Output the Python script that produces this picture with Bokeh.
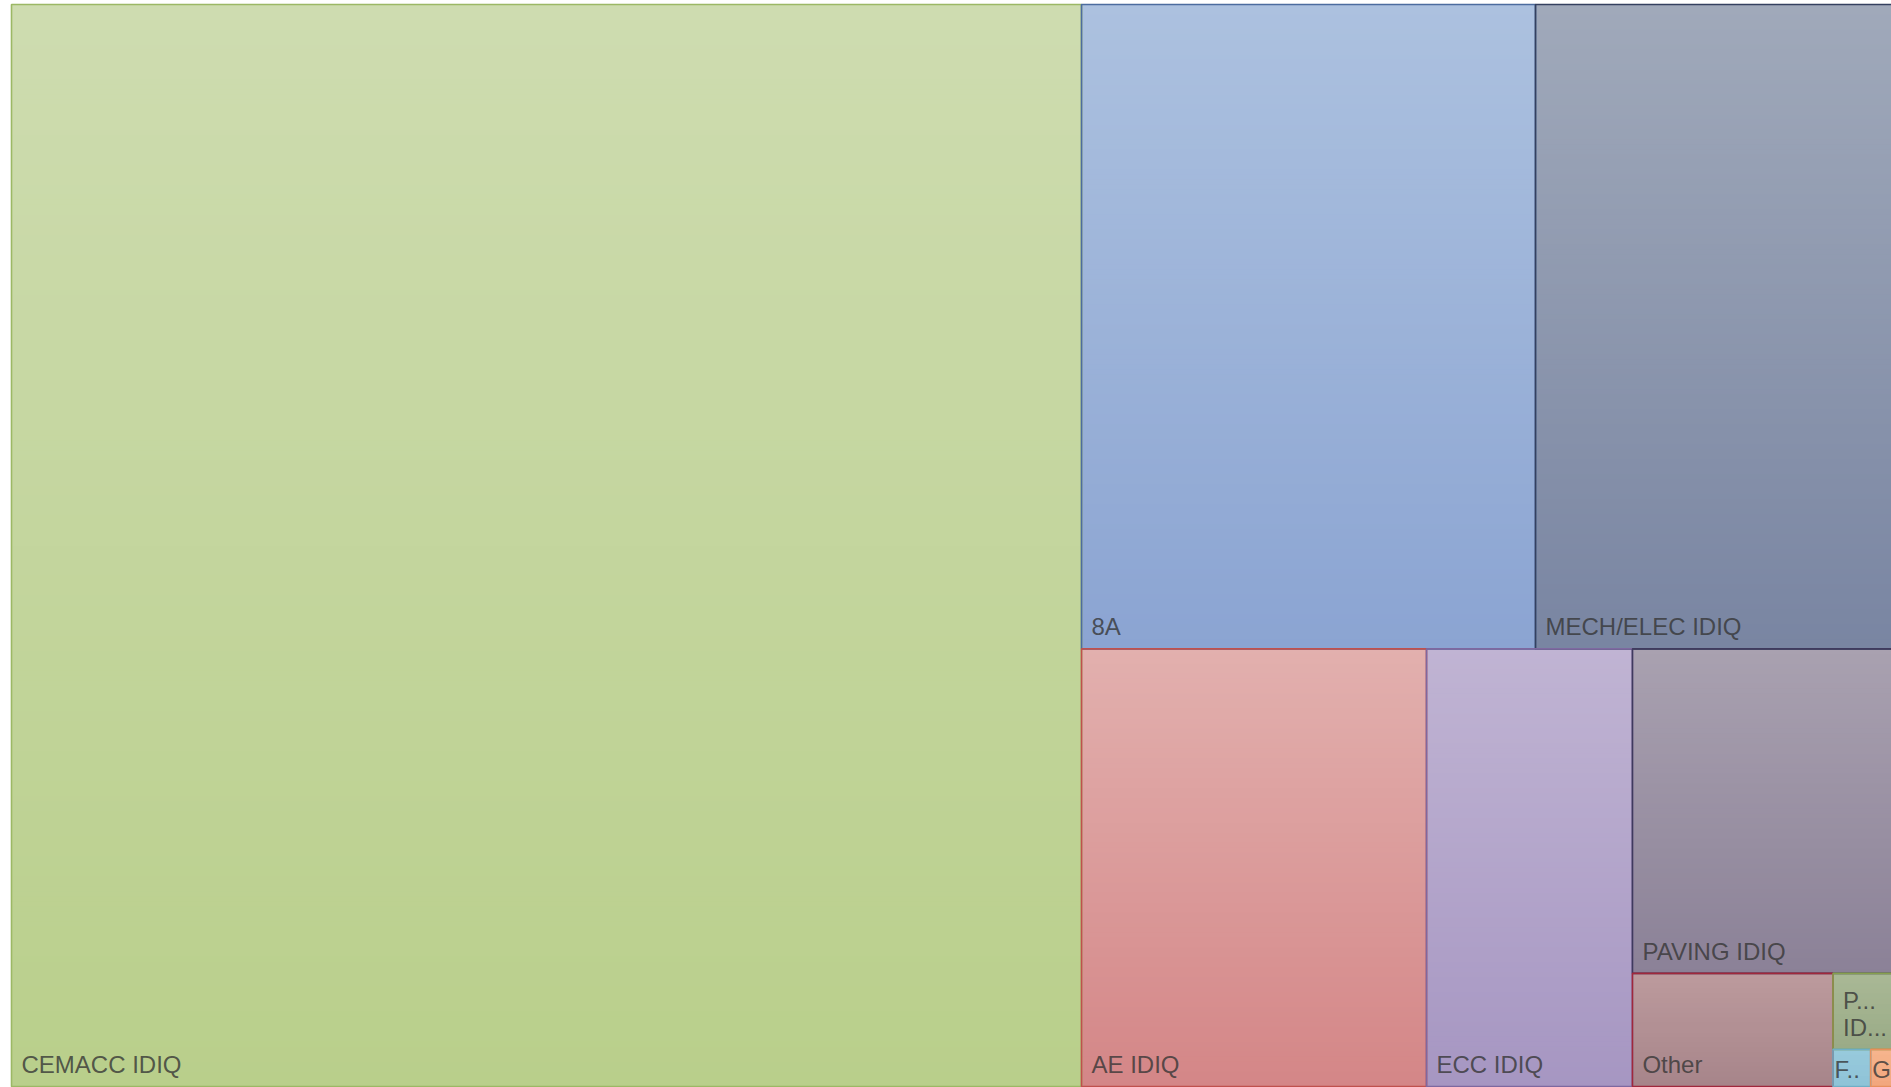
from bokeh.plotting import figure
from bokeh.models import Range1d, ColumnDataSource
from bokeh.core.properties import value
from bokeh.embed import file_html
from bokeh.resources import INLINE

# ---- data -------------------------------------------------------------
categories = ["CEMACC IDIQ", "8A", "MECH/ELEC IDIQ", "AE IDIQ", "ECC IDIQ",
              "PAVING IDIQ", "Other", "P IDIQ", "F", "G"]
label_text = ["CEMACC IDIQ", "8A", "MECH/ELEC IDIQ", "AE IDIQ", "ECC IDIQ",
              "PAVING IDIQ", "Other", "P...\nID...", "F..", "G."]
values = [1158.8, 292.8, 230.9, 151.1, 90.2, 84.8, 22.7, 4.6, 1.4, 0.85]

top_colors = ["#CEDCB0", "#ACC1DF", "#A0A9BA", "#E2B0AE", "#C0B4D3",
              "#A9A1B0", "#BC9A9D", "#A9B896", "#98CADC", "#F6B58E"]
bottom_colors = ["#B9CF8B", "#8BA4D2", "#7985A2", "#D48687", "#A696C2",
                 "#8B8197", "#A7858A", "#9AAB86", "#8EC3D7", "#F2A67D"]
border_colors = ["#9CB865", "#4C6C9F", "#34405F", "#C0504D", "#7E68A0",
                 "#3F3A5E", "#A0283C", "#86A04E", "#6FAFC6", "#E8905C"]

# ---- layout (squarified with look-ahead on the leftover rectangle) ----
X0, Y0, W, H = 11.0, 4.0, 1882.0, 1082.0


def aspect(a, b):
    if a <= 1e-9 or b <= 1e-9:
        return float("inf")
    return max(a / b, b / a)


def row_worst(areas, rest, w, h):
    s = sum(areas)
    if w >= h:
        t = s / h
        worst = max(aspect(t, a / t) for a in areas)
        if rest > 0:
            worst = max(worst, aspect(w - t, h))
    else:
        t = s / w
        worst = max(aspect(a / t, t) for a in areas)
        if rest > 0:
            worst = max(worst, aspect(w, h - t))
    return worst


def treemap(vals, x, y, w, h):
    k = w * h / sum(vals)
    areas = [v * k for v in vals]
    rects = []
    i, n = 0, len(areas)
    while i < n:
        j = i + 1
        cur = row_worst(areas[i:j], sum(areas[j:]), w, h)
        while j < n:
            c = row_worst(areas[i:j + 1], sum(areas[j + 1:]), w, h)
            if c <= cur:
                cur = c
                j += 1
            else:
                break
        row = areas[i:j]
        s = sum(row)
        if w >= h:
            t = s / h
            yy = y
            for a in row:
                L = a / t
                rects.append((x, yy, t, L))
                yy += L
            x += t
            w -= t
        else:
            t = s / w
            xx = x
            for a in row:
                L = a / t
                rects.append((xx, y, L, t))
                xx += L
            y += t
            h -= t
        i = j
    return rects


rects = treemap(values, X0, Y0, W, H)


def hex2rgb(c):
    c = c.lstrip("#")
    return tuple(int(c[i:i + 2], 16) for i in (0, 2, 4))


def mix(c1, c2, f):
    a, b = hex2rgb(c1), hex2rgb(c2)
    return "#%02x%02x%02x" % tuple(int(round(a[i] + (b[i] - a[i]) * f)) for i in range(3))


# gradient strips
sl, sr, st, sb, sc = [], [], [], [], []
for (x, y, w, h), c1, c2 in zip(rects, top_colors, bottom_colors):
    n = max(1, int(round(h / 5.0)))
    for k in range(n):
        y0 = y + h * k / n
        y1 = min(y + h * (k + 1) / n + 0.8, y + h)
        sl.append(x)
        sr.append(x + w)
        st.append(y0)
        sb.append(y1)
        sc.append(mix(c1, c2, (k + 0.5) / n))

strips = ColumnDataSource(dict(left=sl, right=sr, top=st, bottom=sb, color=sc))
boxes = ColumnDataSource(dict(
    left=[r[0] for r in rects], right=[r[0] + r[2] for r in rects],
    top=[r[1] for r in rects], bottom=[r[1] + r[3] for r in rects],
    line=border_colors, name=categories, value=values))

# labels (bottom-left of each box)
tx, ty, tt = [], [], []
for (x, y, w, h), lab in zip(rects, label_text):
    lines = lab.split("\n")
    pad_x = 10 if w > 50 else 1.5
    base = y + h - (22 if w > 50 else 17)
    for li, line in enumerate(reversed(lines)):
        tx.append(x + pad_x)
        ty.append(base - li * 27)
        tt.append(line)
labels = ColumnDataSource(dict(x=tx, y=ty, text=tt))

# ---- figure -------------------------------------------------------------
p = figure(width=1891, height=1087, output_backend="svg", toolbar_location=None,
           x_range=Range1d(0, 1891), y_range=Range1d(1087, 0),
           min_border=0, outline_line_color=None,
           background_fill_color="white", border_fill_color="white")
p.axis.visible = False
p.grid.visible = False

p.quad(left="left", right="right", top="top", bottom="bottom", source=strips,
       fill_color="color", line_color=None)
p.quad(left="left", right="right", top="top", bottom="bottom", source=boxes,
       fill_color=None, line_color="line", line_width=1.6)
p.text(x="x", y="y", text="text", source=labels,
       text_font=value("Liberation Sans"), text_font_size="24px",
       text_color="#363636", text_alpha=0.8, text_baseline="alphabetic",
       text_align="left")

open("out.html", "w").write(file_html(p, INLINE))
